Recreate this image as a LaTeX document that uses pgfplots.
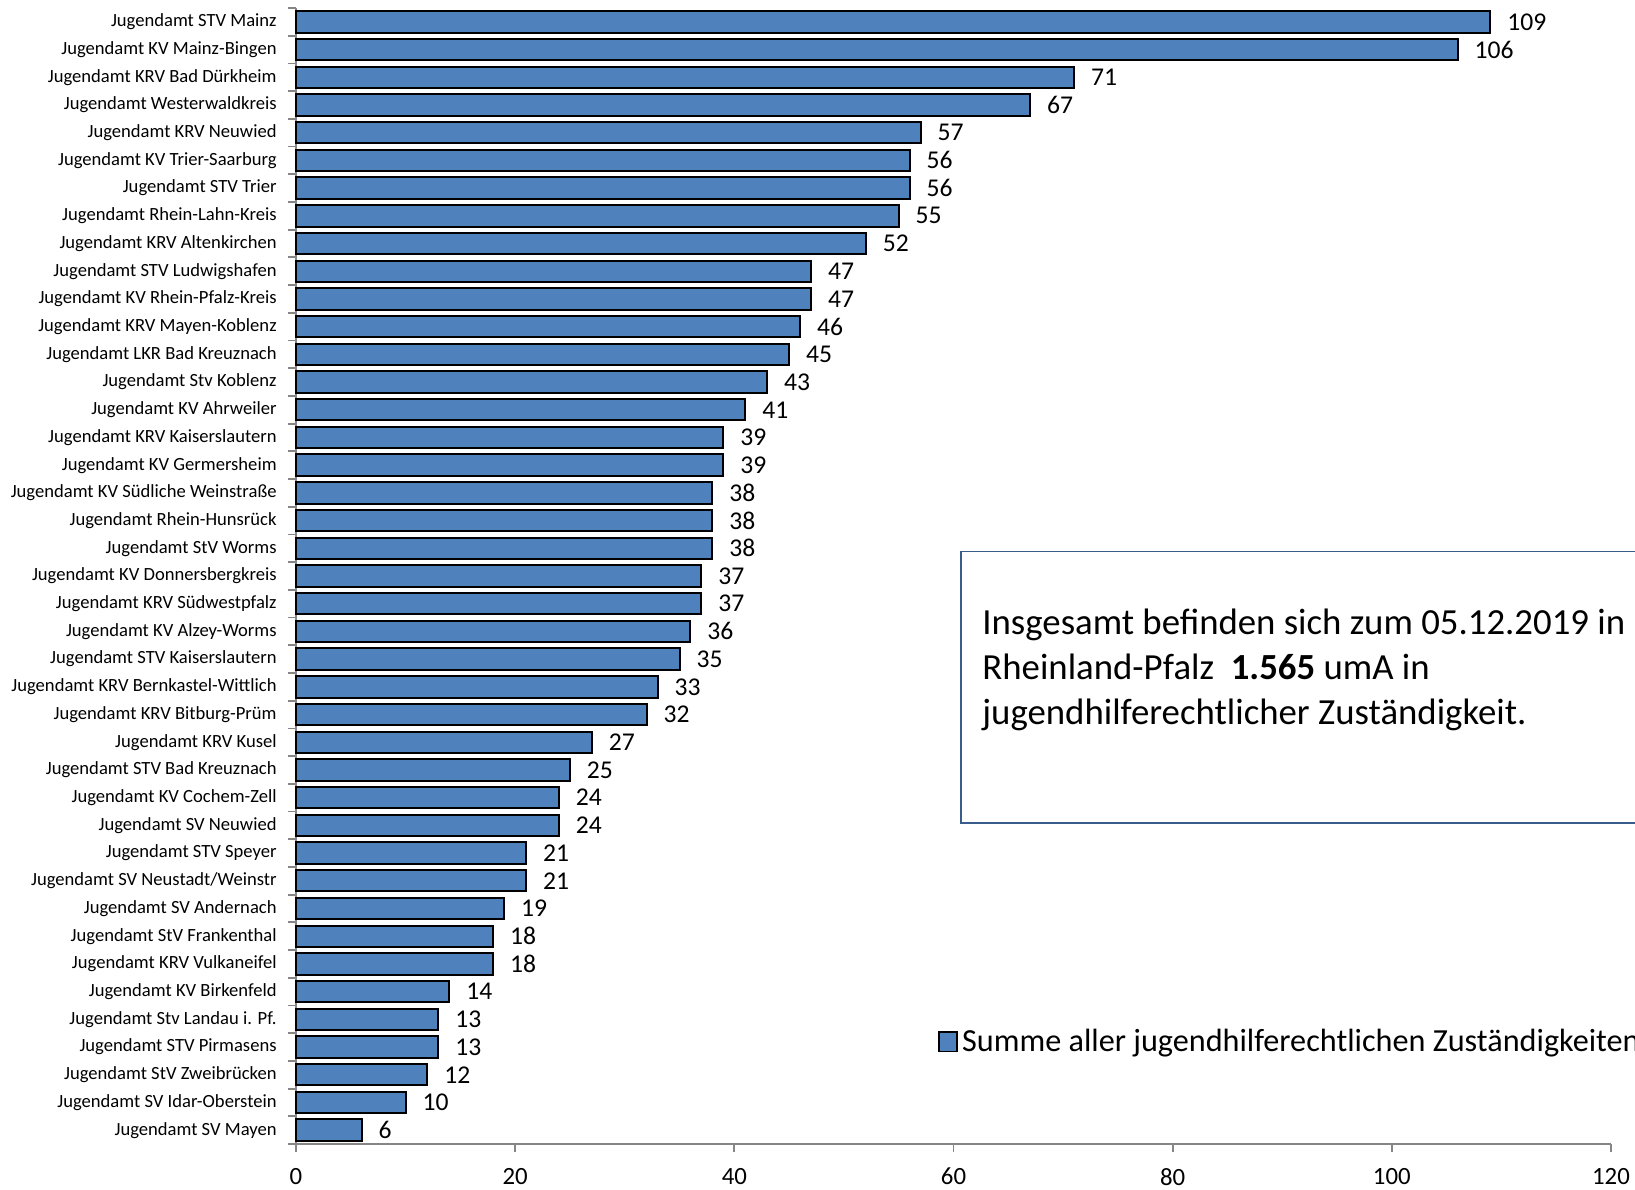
\documentclass[border=0pt]{standalone}
\usepackage{fontspec}
\setmainfont{Carlito}
\usepackage{pgfplots}
\pgfplotsset{compat=1.18}
\definecolor{barblue}{RGB}{79,129,189}
\definecolor{axisgray}{RGB}{134,134,134}
\definecolor{boxblue}{RGB}{56,93,138}
\begin{document}
\begin{tikzpicture}
\begin{axis}[
  name=ax,
  at={(0,0)}, anchor=south west,
  scale only axis, width=657.5pt, height=568pt,
  xbar, bar width=10.7pt,
  xmin=0, xmax=120, ymin=-0.5, ymax=40.5, y dir=reverse,
  xtick={0,20,...,120},
  ytick={-0.5,0.5,...,40.5},
  y tick label as interval,
  yticklabels={Jugendamt STV Mainz, Jugendamt KV Mainz-Bingen, Jugendamt KRV Bad Dürkheim, Jugendamt Westerwaldkreis, Jugendamt KRV Neuwied, Jugendamt KV Trier-Saarburg, Jugendamt STV Trier, Jugendamt Rhein-Lahn-Kreis, Jugendamt KRV Altenkirchen, Jugendamt STV Ludwigshafen, Jugendamt KV Rhein-Pfalz-Kreis, Jugendamt KRV Mayen-Koblenz, Jugendamt LKR Bad Kreuznach, Jugendamt Stv Koblenz, Jugendamt KV Ahrweiler, Jugendamt KRV Kaiserslautern, Jugendamt KV Germersheim, Jugendamt KV Südliche Weinstraße, Jugendamt Rhein-Hunsrück, Jugendamt StV Worms, Jugendamt KV Donnersbergkreis, Jugendamt KRV Südwestpfalz, Jugendamt KV Alzey-Worms, Jugendamt STV Kaiserslautern, Jugendamt KRV Bernkastel-Wittlich, Jugendamt KRV Bitburg-Prüm, Jugendamt KRV Kusel, Jugendamt STV Bad Kreuznach, Jugendamt KV Cochem-Zell, Jugendamt SV Neuwied, Jugendamt STV Speyer, Jugendamt SV Neustadt/Weinstr, Jugendamt SV Andernach, Jugendamt StV Frankenthal, Jugendamt KRV Vulkaneifel, Jugendamt KV Birkenfeld, Jugendamt Stv Landau i. Pf., Jugendamt STV Pirmasens, Jugendamt StV Zweibrücken, Jugendamt SV Idar-Oberstein, Jugendamt SV Mayen},
  axis x line*=bottom, axis y line*=left,
  axis line style={-, draw=axisgray, line width=0.9pt},
  tick align=outside,
  major tick length=4pt,
  tick style={draw=axisgray, line width=0.9pt},
  /pgf/number format/assume math mode=true,
  xticklabel style={font=\fontsize{12.4}{14}\selectfont, yshift=-4.5pt},
  yticklabel style={font=\fontsize{9.3}{11}\selectfont, inner xsep=0pt, xshift=-5.5pt},
  nodes near coords,
  nodes near coords style={font=\fontsize{12.8}{14}\selectfont, anchor=west, inner xsep=0pt, xshift=8pt, /pgf/number format/assume math mode=true},
  legend style={at={(0.4882,0.0901)}, anchor=west, draw=none, fill=none, inner sep=0pt,
    font=\fontsize{16.1}{18}\selectfont, nodes={inner xsep=2.2pt, inner ysep=0pt}},
  legend image code/.code={\draw[#1, line width=0.7pt] (0pt,-4.8pt) rectangle (9pt,4.8pt);},
  clip=false,
]
\addplot[fill=barblue, draw=black, line width=1pt] coordinates {
(109,0) (106,1) (71,2) (67,3) (57,4) (56,5) (56,6) (55,7) (52,8) (47,9)
(47,10) (46,11) (45,12) (43,13) (41,14) (39,15) (39,16) (38,17) (38,18) (38,19)
(37,20) (37,21) (36,22) (35,23) (33,24) (32,25) (27,26) (25,27) (24,28) (24,29)
(21,30) (21,31) (19,32) (18,33) (18,34) (14,35) (13,36) (13,37) (12,38) (10,39)
(6,40)
};
\addlegendentry{Summe aller jugendhilferechtlichen Zuständigkeiten}
\end{axis}
\begin{scope}[shift={(ax.south west)}]
\draw[boxblue, line width=0.8pt, fill=white] (332.5pt,160.5pt) rectangle (720pt,296.2pt);
\begin{scope}[every node/.style={anchor=base west, inner sep=0pt, font=\fontsize{18.4}{22.5}\selectfont}]
\node at (343pt,254.7pt) {Insgesamt befinden sich zum 05.12.2019 in};
\node at (343pt,232.2pt) {Rheinland-Pfalz\ \ \textbf{1.565} umA in};
\node at (343pt,209.7pt) {jugendhilferechtlicher Zuständigkeit.};
\end{scope}
\end{scope}
\pgfresetboundingbox
\path[use as bounding box, shift={(ax.south west)}] (-148pt,-23pt) rectangle (669.5pt,572pt);
\end{tikzpicture}
\end{document}
